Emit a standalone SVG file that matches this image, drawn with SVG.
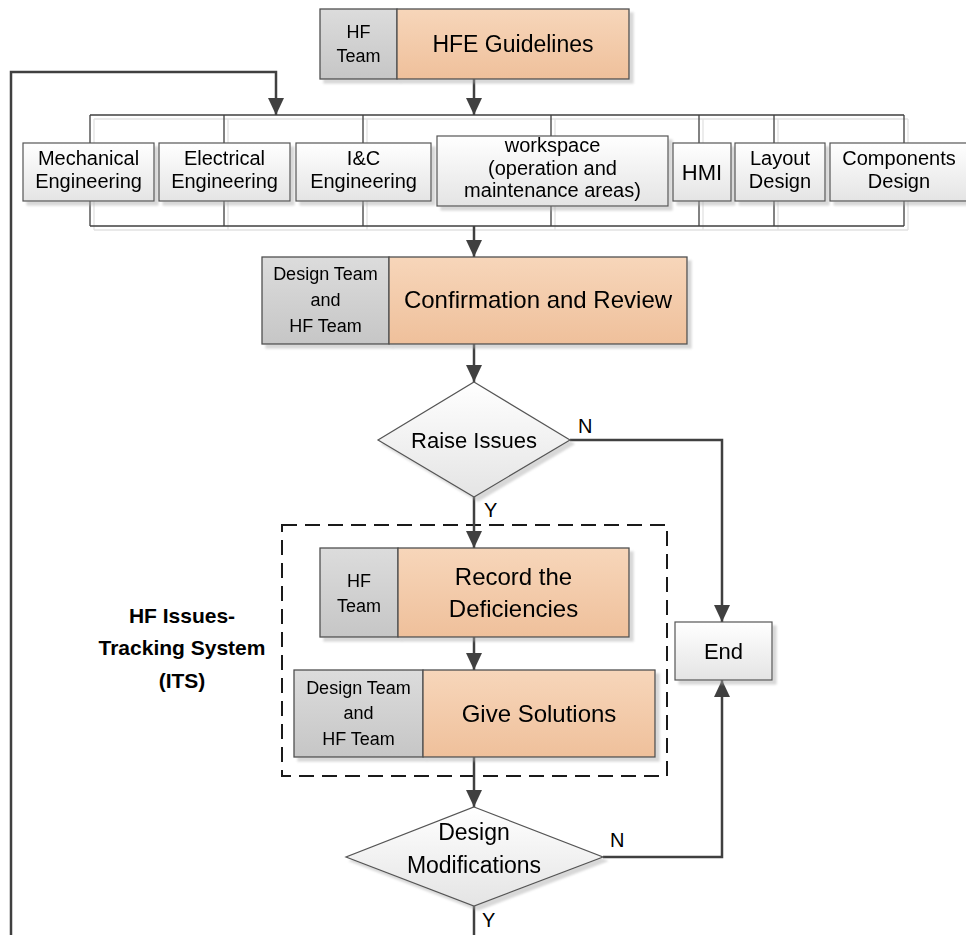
<svg xmlns="http://www.w3.org/2000/svg" width="966" height="935" viewBox="0 0 966 935">
  <defs>
    <linearGradient id="gOrange" x1="0" y1="0" x2="0" y2="1">
      <stop offset="0" stop-color="#f7d6ba"/>
      <stop offset="1" stop-color="#efc09b"/>
    </linearGradient>
    <linearGradient id="gGray" x1="0" y1="0" x2="0" y2="1">
      <stop offset="0" stop-color="#dcdcdc"/>
      <stop offset="1" stop-color="#c6c6c6"/>
    </linearGradient>
    <linearGradient id="gLight" x1="0" y1="0" x2="0" y2="1">
      <stop offset="0" stop-color="#ffffff"/>
      <stop offset="1" stop-color="#e4e4e4"/>
    </linearGradient>
    <filter id="shadow" x="-10%" y="-10%" width="130%" height="140%">
      <feGaussianBlur in="SourceAlpha" stdDeviation="1.2"/>
      <feOffset dx="4" dy="4" result="off"/>
      <feFlood flood-color="#a8a8a8" flood-opacity="0.45"/>
      <feComposite in2="off" operator="in"/>
      <feMerge>
        <feMergeNode/>
        <feMergeNode in="SourceGraphic"/>
      </feMerge>
    </filter>
    <marker id="arrow" viewBox="0 0 17 16" refX="17" refY="8" markerWidth="17" markerHeight="16" markerUnits="userSpaceOnUse" orient="auto">
      <path d="M0,0 L17,8 L0,16 Z" fill="#404040"/>
    </marker>
    <style>
      text { font-family: "Liberation Sans", Arial, sans-serif; fill: #000; text-anchor: middle; }
      .conn { fill: none; stroke: #404040; stroke-width: 2.5; }
      .bracket { fill: none; stroke: #404040; stroke-width: 1.3; }
      .bracket-shade { fill: none; stroke: #e2e2e2; stroke-width: 1.3; }
      .orange { fill: url(#gOrange); stroke: #505050; stroke-width: 1.3; }
      .team { fill: url(#gGray); stroke: #505050; stroke-width: 1.3; }
      .light { fill: url(#gLight); stroke: #555555; stroke-width: 1.2; }
      .dash { fill: none; stroke: #1a1a1a; stroke-width: 2; stroke-dasharray: 15 8; }
      .t18 { font-size: 18px; }
      .t20 { font-size: 20px; }
      .t22 { font-size: 22px; }
      .t23 { font-size: 23px; }
      .t24 { font-size: 24px; }
      .yn { font-size: 20px; text-anchor: start; }
      .its { font-size: 21px; font-weight: bold; }
    </style>
  </defs>

  <rect width="966" height="935" fill="#ffffff"/>

  <!-- fan-out frame behind the discipline boxes -->
  <g id="discipline-frame">
    <g class="bracket-shade" transform="translate(4,4)">
      <path d="M90,115 H904 M90,226 H904 M90,115 V226 M224,115 V226 M363,115 V226 M551,115 V226 M699,115 V226 M774,115 V226 M904,115 V226"/>
    </g>
    <g class="bracket">
      <path d="M90,115 H904 M90,226 H904 M90,115 V226 M224,115 V226 M363,115 V226 M551,115 V226 M699,115 V226 M774,115 V226 M904,115 V226"/>
    </g>
  </g>

  <!-- issues-tracking boundary -->
  <g id="its-boundary">
    <rect class="dash" x="282" y="525" width="385" height="251"/>
    <text class="its" x="182" y="623">HF Issues-</text>
    <text class="its" x="182" y="655">Tracking System</text>
    <text class="its" x="182" y="688">(ITS)</text>
  </g>

  <g id="connectors">
    <path class="conn" d="M474,79 V115" marker-end="url(#arrow)"/>
    <path class="conn" d="M11,935 V72 H276 V115" marker-end="url(#arrow)"/>
    <path class="conn" d="M474,226 V257" marker-end="url(#arrow)"/>
    <path class="conn" d="M474,344 V382" marker-end="url(#arrow)"/>
    <path class="conn" d="M474,497 V548" marker-end="url(#arrow)"/>
    <path class="conn" d="M570,440 H722 V622" marker-end="url(#arrow)"/>
    <path class="conn" d="M474,637 V670" marker-end="url(#arrow)"/>
    <path class="conn" d="M474,757 V807" marker-end="url(#arrow)"/>
    <path class="conn" d="M603,857 H722 V680" marker-end="url(#arrow)"/>
    <path class="conn" d="M474,906 V935"/>
    <text class="yn" x="578" y="433">N</text>
    <text class="yn" x="484" y="517">Y</text>
    <text class="yn" x="610" y="847">N</text>
    <text class="yn" x="482" y="927">Y</text>
  </g>

  <g id="hfe-guidelines" filter="url(#shadow)">
    <rect class="team" x="320" y="9" width="77" height="70"/>
    <rect class="orange" x="397" y="9" width="232" height="70"/>
    <text class="t18" x="358.5" y="38">HF</text>
    <text class="t18" x="358.5" y="62">Team</text>
    <text class="t23" x="513" y="52">HFE Guidelines</text>
  </g>

  <g id="mechanical-engineering" filter="url(#shadow)">
    <rect class="light" x="23" y="143" width="131" height="58"/>
    <text class="t20" x="88.5" y="165">Mechanical</text>
    <text class="t20" x="88.5" y="188">Engineering</text>
  </g>
  <g id="electrical-engineering" filter="url(#shadow)">
    <rect class="light" x="159" y="143" width="131" height="58"/>
    <text class="t20" x="224.5" y="165">Electrical</text>
    <text class="t20" x="224.5" y="188">Engineering</text>
  </g>
  <g id="ic-engineering" filter="url(#shadow)">
    <rect class="light" x="296" y="143" width="135" height="58"/>
    <text class="t20" x="363.5" y="165">I&amp;C</text>
    <text class="t20" x="363.5" y="188">Engineering</text>
  </g>
  <g id="workspace" filter="url(#shadow)">
    <rect class="light" x="437" y="136" width="231" height="70"/>
    <text class="t20" x="552.5" y="152">workspace</text>
    <text class="t20" x="552.5" y="174.5">(operation and</text>
    <text class="t20" x="552.5" y="197">maintenance areas)</text>
  </g>
  <g id="hmi" filter="url(#shadow)">
    <rect class="light" x="673" y="143" width="58" height="58"/>
    <text class="t22" x="702" y="180">HMI</text>
  </g>
  <g id="layout-design" filter="url(#shadow)">
    <rect class="light" x="735" y="143" width="90" height="58"/>
    <text class="t20" x="780" y="165">Layout</text>
    <text class="t20" x="780" y="188">Design</text>
  </g>
  <g id="components-design" filter="url(#shadow)">
    <rect class="light" x="830" y="143" width="140" height="58"/>
    <text class="t20" x="899" y="165">Components</text>
    <text class="t20" x="899" y="188">Design</text>
  </g>

  <g id="confirmation-review" filter="url(#shadow)">
    <rect class="team" x="262" y="257" width="127" height="87"/>
    <rect class="orange" x="389" y="257" width="298" height="87"/>
    <text class="t18" x="325.5" y="280">Design Team</text>
    <text class="t18" x="325.5" y="306">and</text>
    <text class="t18" x="325.5" y="332">HF Team</text>
    <text class="t24" x="538" y="308">Confirmation and Review</text>
  </g>

  <g id="raise-issues" filter="url(#shadow)">
    <polygon class="light" points="474,382 570,440 474,497 378,440"/>
    <text class="t22" x="474" y="448">Raise Issues</text>
  </g>

  <g id="record-deficiencies" filter="url(#shadow)">
    <rect class="team" x="320" y="548" width="78" height="89"/>
    <rect class="orange" x="398" y="548" width="231" height="89"/>
    <text class="t18" x="359" y="587">HF</text>
    <text class="t18" x="359" y="612">Team</text>
    <text class="t24" x="513.5" y="585">Record the</text>
    <text class="t24" x="513.5" y="617">Deficiencies</text>
  </g>

  <g id="give-solutions" filter="url(#shadow)">
    <rect class="team" x="294" y="670" width="129" height="87"/>
    <rect class="orange" x="423" y="670" width="232" height="87"/>
    <text class="t18" x="358.5" y="694">Design Team</text>
    <text class="t18" x="358.5" y="719">and</text>
    <text class="t18" x="358.5" y="745">HF Team</text>
    <text class="t24" x="539" y="722">Give Solutions</text>
  </g>

  <g id="end" filter="url(#shadow)">
    <rect class="light" x="675" y="622" width="97" height="58"/>
    <text class="t22" x="723.5" y="659">End</text>
  </g>

  <g id="design-modifications" filter="url(#shadow)">
    <polygon class="light" points="474,807 603,857 474,906 346,857"/>
    <text class="t23" x="474" y="840">Design</text>
    <text class="t23" x="474" y="873">Modifications</text>
  </g>
</svg>
